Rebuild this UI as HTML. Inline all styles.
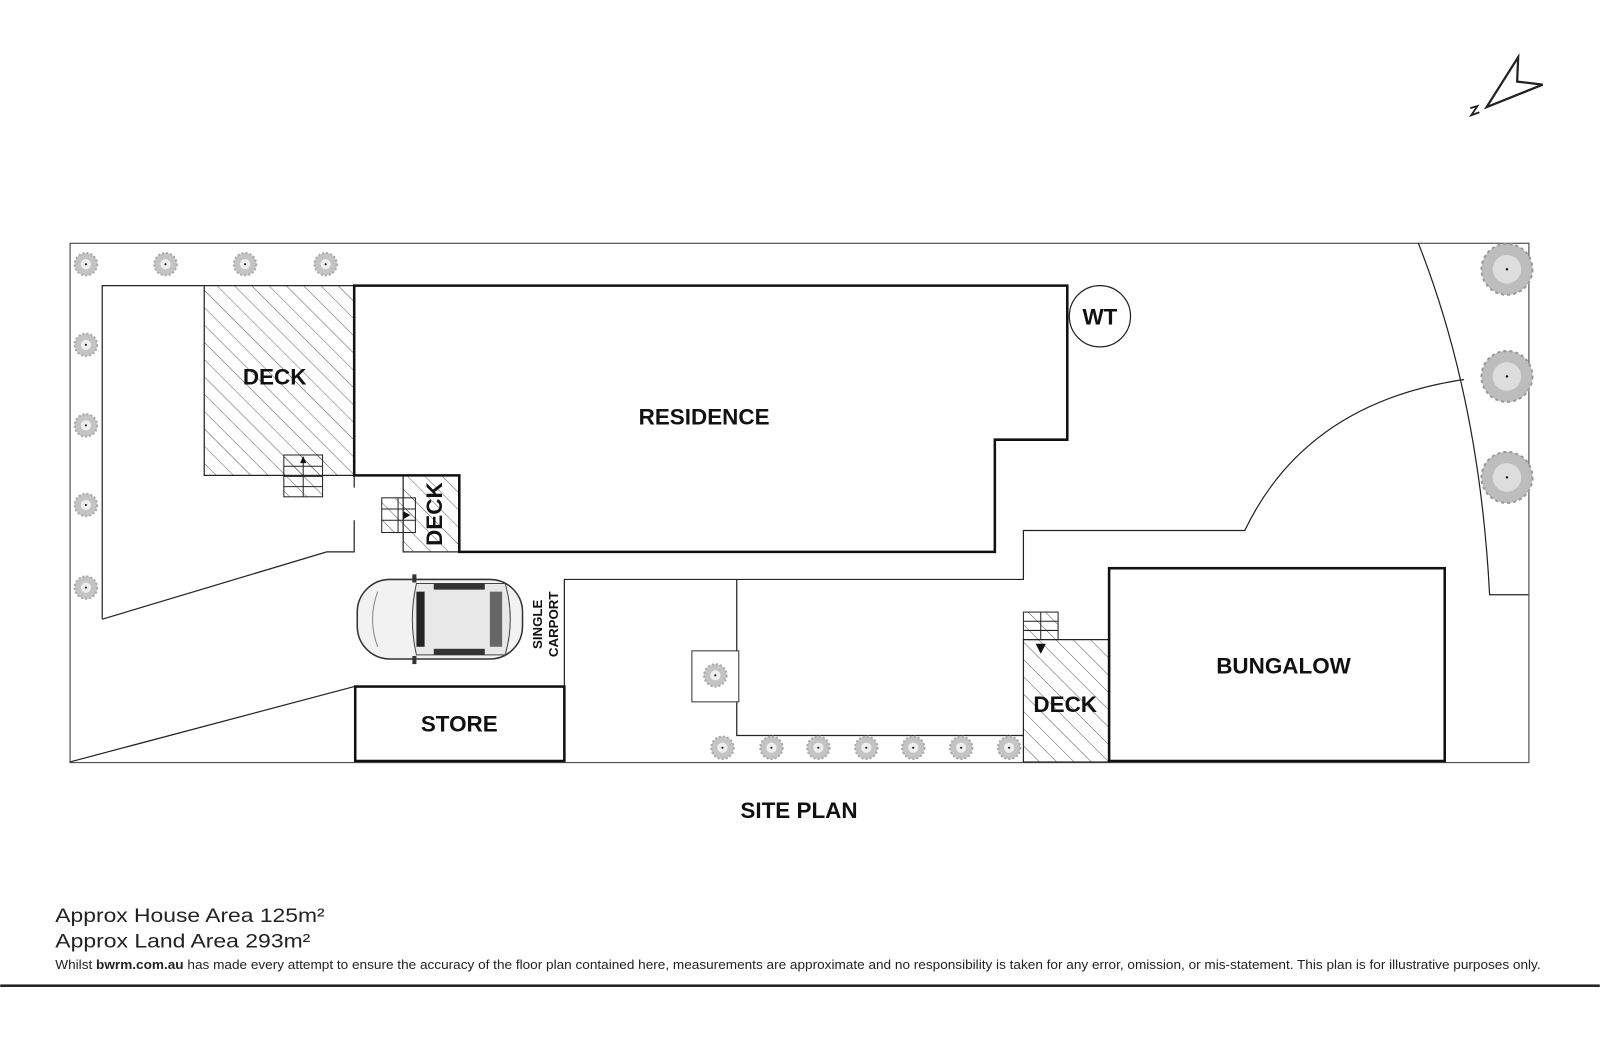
<!DOCTYPE html>
<html><head><meta charset="utf-8"><style>
html,body{margin:0;padding:0;background:#fff;}
svg{display:block;}
text{font-family:"Liberation Sans",Arial,sans-serif;}
.lbl{font-weight:bold;font-size:22px;fill:#111;text-anchor:middle;}
</style></head><body>
<svg width="1600" height="1064" viewBox="0 0 1568 1043" xmlns="http://www.w3.org/2000/svg">
<defs>
<pattern id="h" width="12" height="12" patternUnits="userSpaceOnUse" patternTransform="rotate(-45)">
<line x1="0" y1="0" x2="0" y2="12" stroke="#333" stroke-width="0.8"/>
</pattern>
<g id="tr">
<circle r="11" fill="#c4c4c4" stroke="#aaa" stroke-width="2" stroke-dasharray="2 2"/>
<circle r="5" fill="#eee"/>
<circle r="1" fill="#000"/>
</g>
<g id="tb">
<circle r="25" fill="#bdbdbd" stroke="#999" stroke-width="2" stroke-dasharray="3 3"/>
<circle r="14" fill="#ddd"/>
<circle r="1.2" fill="#000"/>
</g>
</defs>
<rect x="68.5" y="238.5" width="1430" height="509" fill="none" stroke="#555" stroke-width="1.2"/>
<path d="M100,607 V280 H200" fill="none" stroke="#222" stroke-width="1.2"/>
<path d="M347,478 V466 M347,510 V541 H320 L100,607" fill="none" stroke="#222" stroke-width="1.2"/>
<path d="M68,747 L347,673" fill="none" stroke="#222" stroke-width="1.2"/>
<rect x="200" y="280" width="147" height="186" fill="url(#h)" stroke="#222" stroke-width="1.2"/>
<rect x="395" y="466" width="55" height="75" fill="url(#h)" stroke="#222" stroke-width="1.2"/>
<path d="M347,466 V280 H1046 V431 H975 V541 H450 V466 Z" fill="none" stroke="#111" stroke-width="2.5"/>
<g stroke="#222" stroke-width="1" fill="#fff">
<rect x="278" y="446" width="38" height="41" fill="url(#h)"/>
<line x1="278" y1="457" x2="316" y2="457"/><line x1="278" y1="467" x2="316" y2="467"/><line x1="278" y1="477" x2="316" y2="477"/>
<line x1="297" y1="452" x2="297" y2="487"/>
</g>
<path d="M297,447 l-3,7 h6z" fill="#111"/>
<g stroke="#222" stroke-width="1">
<rect x="374" y="488" width="33" height="34" fill="url(#h)"/>
<line x1="374" y1="499" x2="407" y2="499"/><line x1="374" y1="510" x2="407" y2="510"/>
<line x1="390" y1="488" x2="390" y2="522"/>
</g>
<path d="M402,505 l-7,-4 v8z" fill="#111"/>
<g>
<rect x="350" y="568" width="162" height="78" rx="32" fill="#f2f2f2" stroke="#333" stroke-width="1.5"/>
<path d="M408,572 H495 Q505,607 495,642 H408 Q400,607 408,572Z" fill="#e8e8e8" stroke="#444"/>
<rect x="408" y="580" width="8" height="54" fill="#222"/>
<rect x="480" y="580" width="12" height="54" fill="#666"/>
<rect x="425" y="572" width="50" height="6" fill="#333"/>
<rect x="425" y="636" width="50" height="6" fill="#333"/>
<path d="M370,580 Q360,607 370,634" fill="none" stroke="#888"/>
<rect x="404" y="563" width="4" height="8" fill="#333"/><rect x="404" y="643" width="4" height="8" fill="#333"/>
</g>
<text transform="translate(531,612) rotate(-90)" font-size="13" font-weight="bold" text-anchor="middle" fill="#111">SINGLE</text>
<text transform="translate(547,612) rotate(-90)" font-size="13" font-weight="bold" text-anchor="middle" fill="#111">CARPORT</text>
<rect x="348" y="673" width="205" height="73" fill="none" stroke="#111" stroke-width="2.5"/>
<path d="M553,673 V568 H722 V721 H1003 M722,568 H1003 V520 H1220 Q1280,395 1435,372" fill="none" stroke="#222" stroke-width="1.2"/>
<path d="M1390,238 Q1450,390 1460,583 H1498" fill="none" stroke="#222" stroke-width="1.2"/>
<rect x="678" y="638" width="46" height="50" fill="#fff" stroke="#333" stroke-width="1"/>
<use href="#tr" x="701" y="662"/>
<rect x="1003" y="627" width="84" height="120" fill="url(#h)" stroke="#222" stroke-width="1.2"/>
<g stroke="#222" stroke-width="1">
<rect x="1003" y="600" width="34" height="27" fill="url(#h)"/>
<line x1="1003" y1="609" x2="1037" y2="609"/><line x1="1003" y1="618" x2="1037" y2="618"/>
<line x1="1020" y1="600" x2="1020" y2="627"/>
</g>
<path d="M1020,641 l-5,-10 h10z" fill="#111"/>
<rect x="1087" y="557" width="329" height="189" fill="#fff" stroke="#111" stroke-width="2.5"/>
<circle cx="1078" cy="310" r="30" fill="#fff" stroke="#222" stroke-width="1.2"/>
<use href="#tr" x="84" y="259"/><use href="#tr" x="162" y="259"/><use href="#tr" x="240" y="259"/><use href="#tr" x="319" y="259"/>
<use href="#tr" x="84" y="338"/><use href="#tr" x="84" y="417"/><use href="#tr" x="84" y="495"/><use href="#tr" x="84" y="576"/>
<use href="#tr" x="708" y="733"/><use href="#tr" x="756" y="733"/><use href="#tr" x="802" y="733"/><use href="#tr" x="849" y="733"/><use href="#tr" x="895" y="733"/><use href="#tr" x="942" y="733"/><use href="#tr" x="989" y="733"/>
<use href="#tb" x="1477" y="264"/><use href="#tb" x="1477" y="369"/><use href="#tb" x="1477" y="468"/>
<text class="lbl" x="269" y="377">DECK</text>
<text class="lbl" x="690" y="416">RESIDENCE</text>
<text class="lbl" transform="translate(433,504) rotate(-90)">DECK</text>
<text class="lbl" x="450" y="717">STORE</text>
<text class="lbl" x="1258" y="660">BUNGALOW</text>
<text class="lbl" x="1044" y="698">DECK</text>
<text class="lbl" x="1078" y="318">WT</text>
<text class="lbl" x="783" y="802">SITE PLAN</text>
<path d="M1488,56 L1487,80 L1512,83 L1457,105 Z" fill="none" stroke="#222" stroke-width="2.2" stroke-linejoin="miter"/>
<path d="M1441,106 l7,-2 l-6,9 l8,-3" fill="none" stroke="#222" stroke-width="1.8"/>
<text x="54" y="904" font-size="19" fill="#222" textLength="264" lengthAdjust="spacingAndGlyphs">Approx House Area 125m²</text>
<text x="54" y="929" font-size="19" fill="#222" textLength="250" lengthAdjust="spacingAndGlyphs">Approx Land Area 293m²</text>
<text x="54" y="950" font-size="13" fill="#222" textLength="1456" lengthAdjust="spacingAndGlyphs">Whilst <tspan font-weight="bold">bwrm.com.au</tspan> has made every attempt to ensure the accuracy of the floor plan contained here, measurements are approximate and no responsibility is taken for any error, omission, or mis-statement. This plan is for illustrative purposes only.</text>
<rect x="0" y="965" width="1568" height="2.5" fill="#222"/>
</svg>
</body></html>
